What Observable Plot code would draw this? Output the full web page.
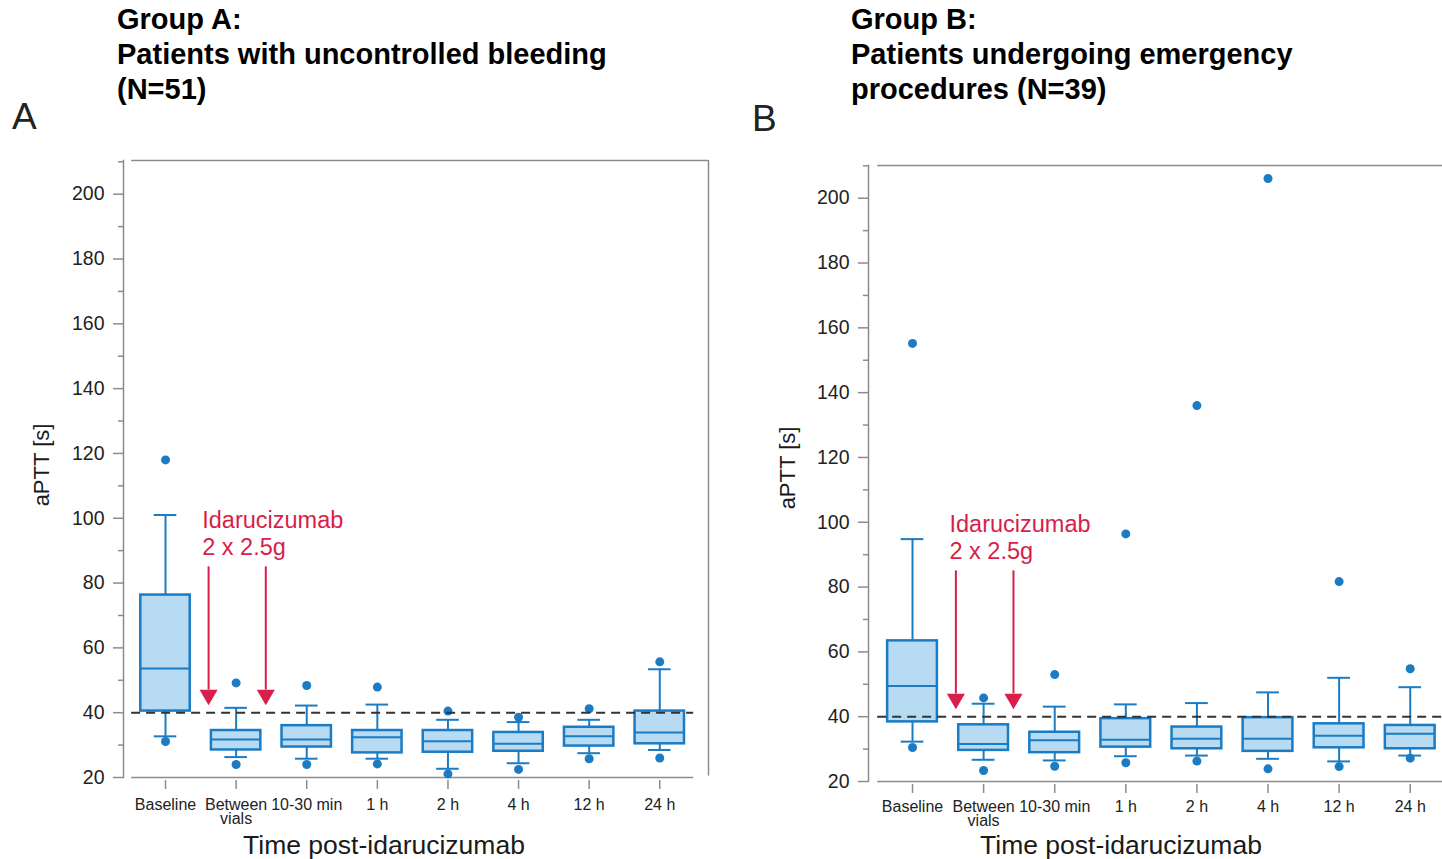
<!DOCTYPE html>
<html><head><meta charset="utf-8">
<script src="https://cdn.jsdelivr.net/npm/d3@7"></script>
<script src="https://cdn.jsdelivr.net/npm/@observablehq/plot@0.6"></script>
<style>
body{margin:0;background:#fff;}
#fig{position:relative;width:1442px;height:859px;overflow:hidden;font-family:"Liberation Sans",Arial,sans-serif;color:#111;background:#fff;}
.title{position:absolute;font-weight:bold;font-size:29px;line-height:35px;white-space:nowrap;color:#000;}
.letter{position:absolute;font-size:37px;line-height:37px;color:#222;}
.xt{position:absolute;font-size:26.5px;line-height:22px;transform:translateX(-50%);white-space:nowrap;color:#1a1a1a;}
.yt{position:absolute;font-size:22px;line-height:24px;transform:translate(-50%,-50%) rotate(-90deg);white-space:nowrap;color:#1a1a1a;}
.panel{position:absolute;top:140px;}
</style></head>
<body>
<div id="fig">
  <div class="title" style="left:117px;top:2px;">Group A:<br>Patients with uncontrolled bleeding<br>(N=51)</div>
  <div class="title" style="left:851px;top:2px;">Group B:<br>Patients undergoing emergency<br>procedures (N=39)</div>
  <div class="letter" style="left:12px;top:98px;">A</div>
  <div class="letter" style="left:752px;top:100px;">B</div>
  <div class="yt" style="left:42px;top:465px;">aPTT [s]</div>
  <div class="yt" style="left:788px;top:468px;">aPTT [s]</div>
  <div class="xt" style="left:384px;top:834px;">Time post-idarucizumab</div>
  <div class="xt" style="left:1121px;top:834px;">Time post-idarucizumab</div>
  <div id="pa" class="panel" style="left:0px;"></div>
  <div id="pb" class="panel" style="left:722px;"></div>
</div>
<script>
// ---- Data ----
const categories = ["Baseline", "Between\nvials", "10-30 min", "1 h", "2 h", "4 h", "12 h", "24 h"];

// Group A (N=51)
const aWhiskerHigh = [101, 41.5, 42.2, 42.5, 37.8, 37.1, 37.8, 53.4];
const aQ3          = [76.3, 34.5, 36.0, 34.5, 34.5, 33.9, 35.5, 40.5];
const aMedian      = [53.6, 31.7, 31.7, 32.4, 31.2, 30.4, 32.7, 33.9];
const aQ1          = [40.5, 28.5, 29.4, 27.6, 27.8, 28.1, 29.7, 30.4];
const aWhiskerLow  = [32.7, 26.3, 25.8, 25.8, 22.7, 24.4, 27.5, 28.5];
const aOutlierHigh = [118, 49.2, 48.4, 47.9, 40.5, 38.6, 41.2, 55.7];
const aOutlierLow  = [31.1, 24.0, 24.0, 24.2, 21.1, 22.5, 25.8, 26.0];

// Group B (N=39)
const bWhiskerHigh = [94.8, 44.0, 43.1, 43.8, 44.2, 47.5, 52.0, 49.1];
const bQ3          = [63.4, 37.5, 35.2, 39.4, 36.8, 39.7, 37.8, 37.3];
const bMedian      = [49.5, 31.6, 32.7, 32.9, 33.2, 33.2, 34.1, 34.7];
const bQ1          = [38.4, 29.6, 28.9, 30.6, 30.1, 29.3, 30.4, 30.1];
const bWhiskerLow  = [32.3, 26.7, 26.5, 27.8, 28.0, 27.0, 26.2, 28.0];
const bOutlierHigh = [155.2, 45.8, 53.0, 96.4, 136, 206.1, 81.7, 54.8];
const bOutlierLow  = [30.5, 23.4, 24.7, 25.8, 26.3, 23.9, 24.6, 27.2];

// Reference line and annotation
const referenceValue = [40];
const majorTicks = [20, 40, 60, 80, 100, 120, 140, 160, 180, 200];
const minorTicks = [30, 50, 70, 90, 110, 130, 150, 170, 190, 210];
const doseArrowX = [0.61, 1.42];
const doseArrowTop = 85;
const doseArrowShaftEnd = 47;
const doseArrowHead = 45.5;
const annotationLines = ["Idarucizumab", "2 x 2.5g"];
const annotationY = [99.3, 91];
const annotationX = 0.52;

// ---- Styling ----
const blue = "#1b7cc4", boxFill = "#b7dbf2", red = "#d81e4a", gray = "#8c8c8c";
const boxHalf = 0.35, capHalf = 0.16;

function rowsOf(lo, q1, med, q3, hi) {
  return categories.map((c, i) => ({i, lo: lo[i], q1: q1[i], med: med[i], q3: q3[i], hi: hi[i]}));
}
function outliersOf(high, low) {
  return categories.flatMap((c, i) => [{i, v: high[i]}, {i, v: low[i]}]);
}

function panel(o) {
  const rows = o.rows;
  return Plot.plot({
    width: o.width, height: 719,
    marginLeft: o.marginLeft, marginRight: o.marginRight,
    marginTop: o.marginTop, marginBottom: o.marginBottom,
    x: {domain: o.xDomain},
    y: {domain: [20, o.yTop]},
    style: {background: "transparent", fontFamily: "'Liberation Sans', Arial, sans-serif", color: "#222", overflow: "visible"},
    marks: [
      Plot.frame({anchor: "left", stroke: gray, strokeWidth: 1.5}),
      Plot.ruleY([o.yTop], {x1: o.frameLeft, x2: o.frameRight, stroke: gray, strokeWidth: 1.5}),
      Plot.ruleY([20], {x1: o.frameLeft, x2: o.bottomRight, stroke: gray, strokeWidth: 1.5}),
      o.rightLine ? Plot.ruleX([o.frameRight], {y1: 20.5, y2: o.yTop, stroke: gray, strokeWidth: 1.5}) : null,
      // whiskers
      Plot.ruleX(rows, {x: "i", y1: "q3", y2: "hi", stroke: blue, strokeWidth: 2}),
      Plot.ruleX(rows, {x: "i", y1: "lo", y2: "q1", stroke: blue, strokeWidth: 2}),
      Plot.ruleY(rows, {y: "hi", x1: d => d.i - capHalf, x2: d => d.i + capHalf, stroke: blue, strokeWidth: 2}),
      Plot.ruleY(rows, {y: "lo", x1: d => d.i - capHalf, x2: d => d.i + capHalf, stroke: blue, strokeWidth: 2}),
      // boxes
      Plot.rect(rows, {x1: d => d.i - boxHalf, x2: d => d.i + boxHalf, y1: "q1", y2: "q3", fill: boxFill, stroke: blue, strokeWidth: 2.5}),
      Plot.ruleY(rows, {y: "med", x1: d => d.i - boxHalf, x2: d => d.i + boxHalf, stroke: blue, strokeWidth: 2}),
      // outliers
      Plot.dot(o.outliers, {x: "i", y: "v", r: 4.5, fill: blue, stroke: "none"}),
      // reference line
      Plot.ruleY(referenceValue, {x1: o.frameLeft, x2: o.bottomRight, stroke: "#333", strokeWidth: 2, strokeDasharray: "9,6"}),
      // dose arrows
      Plot.ruleX(doseArrowX, {y1: doseArrowTop, y2: doseArrowShaftEnd, stroke: red, strokeWidth: 2}),
      Plot.dot(doseArrowX, {x: d => d, y: doseArrowHead, symbol: "triangle", rotate: 180, r: 6.7, fill: red, stroke: "none"}),
      Plot.text(annotationLines, {x: annotationX, y: (d, i) => annotationY[i], text: d => d, textAnchor: "start", fill: red, fontSize: 23.5}),
      // axes
      Plot.axisY({ticks: majorTicks, tickSize: 10, tickPadding: 9, fontSize: 19.5, label: null, stroke: gray, strokeWidth: 1.5}),
      Plot.axisY({ticks: minorTicks, tickSize: 5, fill: "none", label: null, stroke: gray, strokeWidth: 1.5}),
      Plot.axisX({ticks: d3.range(categories.length), tickFormat: i => categories[i], tickSize: 9, dy: 3, tickPadding: o.labelPad, fontSize: 16, lineHeight: 0.9, label: null, stroke: gray, strokeWidth: 1.5})
    ]
  });
}

document.getElementById("pa").append(panel({
  rows: rowsOf(aWhiskerLow, aQ1, aMedian, aQ3, aWhiskerHigh),
  outliers: outliersOf(aOutlierHigh, aOutlierLow),
  width: 720, marginLeft: 123, marginRight: 12, marginTop: 20, marginBottom: 82,
  xDomain: [-0.595, 7.69], yTop: 210.4,
  frameLeft: -0.48, frameRight: 7.69, bottomRight: 7.48, rightLine: true, labelPad: 10
}));

document.getElementById("pb").append(panel({
  rows: rowsOf(bWhiskerLow, bQ1, bMedian, bQ3, bWhiskerHigh),
  outliers: outliersOf(bOutlierHigh, bOutlierLow),
  width: 720, marginLeft: 146, marginRight: 0, marginTop: 25, marginBottom: 78,
  xDomain: [-0.619, 7.454], yTop: 210.1,
  frameLeft: -0.49, frameRight: 7.454, bottomRight: 7.454, rightLine: false, labelPad: 8
}));
</script>
</body></html>
